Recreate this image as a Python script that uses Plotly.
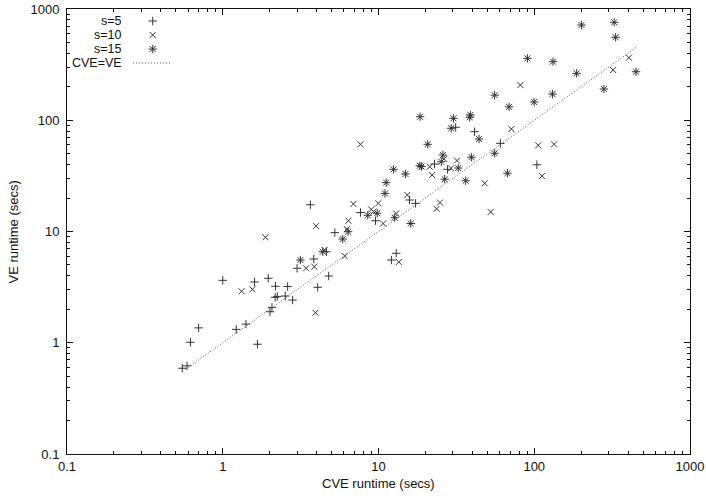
import plotly.graph_objects as go

# ---- data ----
s5_x = [1.0, 1.60, 1.96, 2.18, 2.61, 2.17, 2.24, 2.52, 2.81, 2.07, 2.01, 1.41, 1.22, 0.70,
        0.62, 1.67, 0.55, 0.59, 3.0, 3.65, 3.84, 4.63, 4.07, 4.79, 5.24, 7.66, 9.57, 17.3,
        15.8, 13.0, 12.1, 31.3, 41.4, 22.9, 27.7, 60.6, 104]
s5_y = [3.64, 3.52, 3.80, 3.22, 3.20, 2.56, 2.61, 2.63, 2.42, 2.08, 1.90, 1.47, 1.32, 1.36,
        1.01, 0.97, 0.59, 0.62, 4.67, 17.4, 5.66, 6.58, 3.15, 3.98, 9.76, 14.8, 12.5, 17.9,
        19.2, 6.37, 5.54, 86.4, 78.9, 40.4, 36.2, 62.0, 39.8]

s10_x = [1.88, 3.43, 1.32, 1.55, 3.98, 3.87, 4.50, 3.94, 6.07, 6.41, 6.27, 6.90, 8.98, 9.29,
         9.95, 10.7, 13.0, 15.3, 13.5, 7.66, 21.3, 26.4, 29.2, 31.9, 22.1, 48.1, 24.8, 23.6,
         52.5, 81.5, 71.3, 106, 134, 112, 405, 321]
s10_y = [8.87, 4.67, 2.90, 3.02, 11.2, 4.83, 6.82, 1.86, 6.02, 12.5, 10.5, 17.7, 15.8, 15.1,
         17.9, 11.8, 14.5, 21.3, 5.32, 60.8, 38.2, 44.9, 37.0, 43.4, 32.2, 27.1, 18.2, 16.0,
         15.0, 207, 83.4, 59.5, 60.8, 31.5, 365, 283]

s15_x = [3.15, 4.39, 5.89, 6.38, 8.53, 9.81, 12.7, 16.1, 11.0, 11.2, 14.9, 12.5, 18.5, 30.3,
         38.9, 38.5, 29.3, 44.2, 20.7, 18.4, 18.9, 25.9, 25.3, 32.5, 39.5, 55.7, 26.6, 36.3,
         90.4, 132, 187, 280, 55.7, 131, 99.8, 68.9, 67.3, 201, 326, 333, 450]
s15_y = [5.54, 6.58, 8.56, 9.96, 14.0, 14.6, 13.3, 11.8, 22.0, 27.5, 32.9, 36.2, 107.6, 104,
         111.5, 106.3, 84.7, 67.8, 60.8, 39.0, 38.4, 48.7, 42.4, 37.2, 46.5, 50.5, 29.5, 28.6,
         360, 336, 264, 191, 168, 172, 146, 132, 33.4, 718, 759, 557, 273]

diag_x = [0.58, 455]
diag_y = [0.58, 455]

tick_vals = [0.1, 1, 10, 100, 1000]
tick_text = ["0.1", "1", "10", "100", "1000"]

legend_names = ["s=5", "s=10", "s=15", "CVE=VE"]
x_title = "CVE runtime (secs)"
y_title = "VE runtime (secs)"

FONT = "Liberation Sans, Arial, Helvetica, sans-serif"
INK = "#111111"
MK = "#333333"

mk_plus = dict(symbol="cross-thin", size=6, color=MK, line=dict(width=1, color=MK))
mk_x = dict(symbol="x-thin", size=6, color=MK, line=dict(width=1, color=MK))
mk_star = dict(symbol="asterisk", size=7, color=MK, line=dict(width=1, color=MK))
diag_line = dict(color="#555555", width=1, dash="1px,2px")

fig = go.Figure()
fig.add_trace(go.Scatter(x=s5_x, y=s5_y, mode="markers", marker=mk_plus, name=legend_names[0]))
fig.add_trace(go.Scatter(x=s10_x, y=s10_y, mode="markers", marker=mk_x, name=legend_names[1]))
fig.add_trace(go.Scatter(x=s15_x, y=s15_y, mode="markers", marker=mk_star, name=legend_names[2]))
fig.add_trace(go.Scatter(x=diag_x, y=diag_y, mode="lines", line=diag_line, name=legend_names[3]))

# ---- gnuplot-style key (text left, sample right) on an overlay axis spanning [0,1] ----
key_rows = [0.973, 0.9416, 0.910, 0.8787]
key_text_x = 0.0915
key_sym_x = 0.1376
key_line_x = [0.106, 0.1685]
for i, mk in enumerate([mk_plus, mk_x, mk_star]):
    fig.add_trace(go.Scatter(x=[key_sym_x], y=[key_rows[i]], mode="markers", marker=mk,
                             xaxis="x2", yaxis="y2", hoverinfo="skip"))
fig.add_trace(go.Scatter(x=key_line_x, y=[key_rows[3]] * 2, mode="lines", line=diag_line,
                         xaxis="x2", yaxis="y2", hoverinfo="skip"))
for i, name in enumerate(legend_names):
    fig.add_annotation(x=key_text_x, y=key_rows[i], xref="paper", yref="paper", text=name,
                       showarrow=False, xanchor="right", yanchor="middle",
                       font=dict(family=FONT, size=12.5, color=INK))

# axis titles
fig.add_annotation(x=0.5, y=-0.0652, xref="paper", yref="paper", text=x_title,
                   showarrow=False, xanchor="center", yanchor="middle",
                   font=dict(family=FONT, size=13, color=INK))
fig.add_annotation(x=-0.0851, y=0.5, xref="paper", yref="paper", text=y_title,
                   showarrow=False, xanchor="center", yanchor="middle", textangle=-90,
                   font=dict(family=FONT, size=13, color=INK))

axis_common = dict(
    type="log", range=[-1, 3], tickvals=tick_vals, ticktext=tick_text,
    ticks="inside", ticklen=6, tickwidth=1, tickcolor=INK,
    showline=True, linecolor=INK, linewidth=1, mirror="allticks",
    showgrid=False, zeroline=False, automargin=False, ticklabeloverflow="allow",
    minor=dict(ticks="inside", ticklen=3, tickwidth=1, tickcolor=INK, dtick="D1", showgrid=False),
    tickfont=dict(family=FONT, size=13, color=INK),
)

fig.update_layout(
    width=706, height=496,
    margin=dict(l=67, r=16, t=9, b=42, autoexpand=False),
    paper_bgcolor="white", plot_bgcolor="white",
    showlegend=False,
    font=dict(family=FONT, size=13, color=INK),
    xaxis=dict(**axis_common),
    yaxis=dict(**axis_common, ticklabelstandoff=4),
    xaxis2=dict(overlaying="x", range=[0, 1], visible=False, anchor="y2"),
    yaxis2=dict(overlaying="y", range=[0, 1], visible=False, anchor="x2"),
)

fig.write_html(
    "out.html",
    config={"displayModeBar": False},
    post_script="document.body.style.margin='0';document.body.style.overflow='hidden';",
)
